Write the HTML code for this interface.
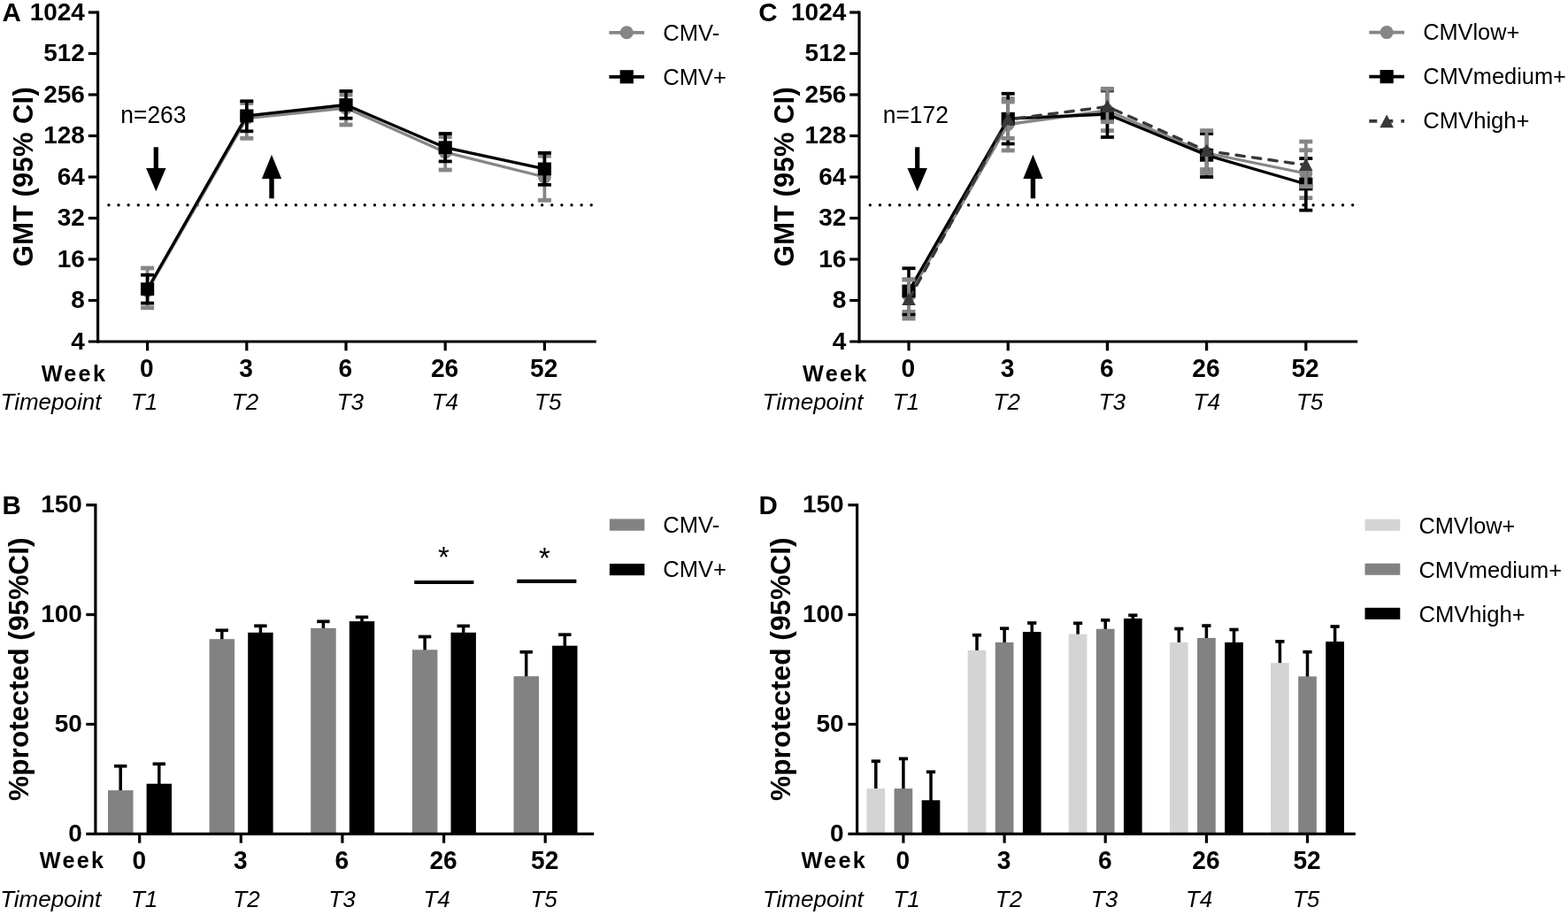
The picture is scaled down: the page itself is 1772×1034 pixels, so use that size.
<!DOCTYPE html>
<html><head><meta charset="utf-8"><title>Figure</title>
<style>html,body{margin:0;padding:0;background:#fff}svg{display:block}text{font-family:"Liberation Sans",sans-serif;fill:#000}</style>
</head><body>
<svg width="1772" height="1034" viewBox="0 0 1772 1034">
<rect width="1772" height="1034" fill="#fff"/>
<line x1="110.60" y1="12.50" x2="110.60" y2="387.60" stroke="#000" stroke-width="3.2" />
<line x1="99.80" y1="386.00" x2="673.80" y2="386.00" stroke="#000" stroke-width="3.2" />
<text transform="translate(95.90 394.90) scale(1 1.01)" font-size="28" font-weight="bold" text-anchor="end" >4</text>
<line x1="99.80" y1="339.50" x2="110.60" y2="339.50" stroke="#000" stroke-width="3.2" />
<text transform="translate(95.90 348.40) scale(1 1.01)" font-size="28" font-weight="bold" text-anchor="end" >8</text>
<line x1="99.80" y1="293.00" x2="110.60" y2="293.00" stroke="#000" stroke-width="3.2" />
<text transform="translate(95.90 301.90) scale(1 1.01)" font-size="28" font-weight="bold" text-anchor="end" >16</text>
<line x1="99.80" y1="246.50" x2="110.60" y2="246.50" stroke="#000" stroke-width="3.2" />
<text transform="translate(95.90 255.40) scale(1 1.01)" font-size="28" font-weight="bold" text-anchor="end" >32</text>
<line x1="99.80" y1="200.00" x2="110.60" y2="200.00" stroke="#000" stroke-width="3.2" />
<text transform="translate(95.90 208.90) scale(1 1.01)" font-size="28" font-weight="bold" text-anchor="end" >64</text>
<line x1="99.80" y1="153.50" x2="110.60" y2="153.50" stroke="#000" stroke-width="3.2" />
<text transform="translate(95.90 162.40) scale(1 1.01)" font-size="28" font-weight="bold" text-anchor="end" >128</text>
<line x1="99.80" y1="107.00" x2="110.60" y2="107.00" stroke="#000" stroke-width="3.2" />
<text transform="translate(95.90 115.90) scale(1 1.01)" font-size="28" font-weight="bold" text-anchor="end" >256</text>
<line x1="99.80" y1="60.50" x2="110.60" y2="60.50" stroke="#000" stroke-width="3.2" />
<text transform="translate(95.90 69.40) scale(1 1.01)" font-size="28" font-weight="bold" text-anchor="end" >512</text>
<line x1="99.80" y1="14.00" x2="110.60" y2="14.00" stroke="#000" stroke-width="3.2" />
<text transform="translate(95.90 22.90) scale(1 1.01)" font-size="28" font-weight="bold" text-anchor="end" >1024</text>
<line x1="166.60" y1="386.00" x2="166.60" y2="396.30" stroke="#000" stroke-width="3.2" />
<text transform="translate(165.90 425.80) scale(1 1.045)" font-size="28.1" font-weight="bold" text-anchor="middle" >0</text>
<line x1="278.80" y1="386.00" x2="278.80" y2="396.30" stroke="#000" stroke-width="3.2" />
<text transform="translate(278.10 425.80) scale(1 1.045)" font-size="28.1" font-weight="bold" text-anchor="middle" >3</text>
<line x1="391.00" y1="386.00" x2="391.00" y2="396.30" stroke="#000" stroke-width="3.2" />
<text transform="translate(390.30 425.80) scale(1 1.045)" font-size="28.1" font-weight="bold" text-anchor="middle" >6</text>
<line x1="503.20" y1="386.00" x2="503.20" y2="396.30" stroke="#000" stroke-width="3.2" />
<text transform="translate(502.50 425.80) scale(1 1.045)" font-size="28.1" font-weight="bold" text-anchor="middle" >26</text>
<line x1="615.40" y1="386.00" x2="615.40" y2="396.30" stroke="#000" stroke-width="3.2" />
<text transform="translate(614.70 425.80) scale(1 1.045)" font-size="28.1" font-weight="bold" text-anchor="middle" >52</text>
<text x="147.90" y="462.80" font-size="26" font-weight="normal" font-style="italic" text-anchor="start" >T1</text>
<text x="261.80" y="462.80" font-size="26" font-weight="normal" font-style="italic" text-anchor="start" >T2</text>
<text x="380.70" y="462.80" font-size="26" font-weight="normal" font-style="italic" text-anchor="start" >T3</text>
<text x="487.70" y="462.80" font-size="26" font-weight="normal" font-style="italic" text-anchor="start" >T4</text>
<text x="604.10" y="462.80" font-size="26" font-weight="normal" font-style="italic" text-anchor="start" >T5</text>
<text transform="translate(46.70 430.60) scale(1 1.04)" font-size="25.2" font-weight="bold" text-anchor="start" letter-spacing="2.3">Week</text>
<text x="0.50" y="462.80" font-size="26" font-weight="normal" font-style="italic" text-anchor="start" >Timepoint</text>
<text x="2.60" y="23.70" font-size="29.5" font-weight="bold" font-style="normal" text-anchor="start" >A</text>
<text transform="translate(37.00,199.6) rotate(-90)" font-size="31" font-weight="bold" text-anchor="middle" letter-spacing="0.3">GMT (95% CI)</text>
<text transform="translate(136.30 138.50) scale(1 1.035)" font-size="26.4" font-weight="normal" text-anchor="start" >n=263</text>
<line x1="122.90" y1="231.7" x2="669.00" y2="231.7" stroke="#000" stroke-width="3.4" stroke-linecap="round" stroke-dasharray="0 11.13"/>
<path d="M173.70 166.3H178.90V190H187.50L176.30 216.3L165.10 190H173.70Z" fill="#000"/>
<path d="M304.30 224.2H309.70V202H318.10L307.00 174.8L295.90 202H304.30Z" fill="#000"/>
<polyline points="166.60,328.50 278.80,133.50 391.00,122.00 503.20,172.00 615.40,200.00" fill="none" stroke="#868686" stroke-width="3.3" stroke-linejoin="round" />
<line x1="166.60" y1="303.00" x2="166.60" y2="347.80" stroke="#868686" stroke-width="3.8" />
<line x1="159.10" y1="303.00" x2="174.10" y2="303.00" stroke="#868686" stroke-width="4.8" />
<line x1="159.10" y1="347.80" x2="174.10" y2="347.80" stroke="#868686" stroke-width="4.8" />
<circle cx="166.60" cy="328.50" r="7.5" fill="#868686"/>
<line x1="278.80" y1="116.50" x2="278.80" y2="156.30" stroke="#868686" stroke-width="3.8" />
<line x1="271.30" y1="116.50" x2="286.30" y2="116.50" stroke="#868686" stroke-width="4.8" />
<line x1="271.30" y1="156.30" x2="286.30" y2="156.30" stroke="#868686" stroke-width="4.8" />
<circle cx="278.80" cy="133.50" r="7.5" fill="#868686"/>
<line x1="391.00" y1="107.00" x2="391.00" y2="141.00" stroke="#868686" stroke-width="3.8" />
<line x1="383.50" y1="107.00" x2="398.50" y2="107.00" stroke="#868686" stroke-width="4.8" />
<line x1="383.50" y1="141.00" x2="398.50" y2="141.00" stroke="#868686" stroke-width="4.8" />
<circle cx="391.00" cy="122.00" r="7.5" fill="#868686"/>
<line x1="503.20" y1="154.50" x2="503.20" y2="192.00" stroke="#868686" stroke-width="3.8" />
<line x1="495.70" y1="154.50" x2="510.70" y2="154.50" stroke="#868686" stroke-width="4.8" />
<line x1="495.70" y1="192.00" x2="510.70" y2="192.00" stroke="#868686" stroke-width="4.8" />
<circle cx="503.20" cy="172.00" r="7.5" fill="#868686"/>
<line x1="615.40" y1="176.20" x2="615.40" y2="226.30" stroke="#868686" stroke-width="3.8" />
<line x1="607.90" y1="176.20" x2="622.90" y2="176.20" stroke="#868686" stroke-width="4.8" />
<line x1="607.90" y1="226.30" x2="622.90" y2="226.30" stroke="#868686" stroke-width="4.8" />
<circle cx="615.40" cy="200.00" r="7.5" fill="#868686"/>
<polyline points="166.60,326.70 278.80,130.90 391.00,118.50 503.20,166.70 615.40,190.90" fill="none" stroke="#000" stroke-width="3.3" stroke-linejoin="round" />
<line x1="166.60" y1="310.70" x2="166.60" y2="342.60" stroke="#000" stroke-width="3.6" />
<line x1="159.10" y1="310.70" x2="174.10" y2="310.70" stroke="#000" stroke-width="3.8" />
<line x1="159.10" y1="342.60" x2="174.10" y2="342.60" stroke="#000" stroke-width="3.8" />
<rect x="159.00" y="319.30" width="15.20" height="14.80" fill="#000"/>
<line x1="278.80" y1="114.30" x2="278.80" y2="148.30" stroke="#000" stroke-width="3.6" />
<line x1="271.30" y1="114.30" x2="286.30" y2="114.30" stroke="#000" stroke-width="3.8" />
<line x1="271.30" y1="148.30" x2="286.30" y2="148.30" stroke="#000" stroke-width="3.8" />
<rect x="271.20" y="123.50" width="15.20" height="14.80" fill="#000"/>
<line x1="391.00" y1="103.00" x2="391.00" y2="133.70" stroke="#000" stroke-width="3.6" />
<line x1="383.50" y1="103.00" x2="398.50" y2="103.00" stroke="#000" stroke-width="3.8" />
<line x1="383.50" y1="133.70" x2="398.50" y2="133.70" stroke="#000" stroke-width="3.8" />
<rect x="383.40" y="111.10" width="15.20" height="14.80" fill="#000"/>
<line x1="503.20" y1="151.00" x2="503.20" y2="182.40" stroke="#000" stroke-width="3.6" />
<line x1="495.70" y1="151.00" x2="510.70" y2="151.00" stroke="#000" stroke-width="3.8" />
<line x1="495.70" y1="182.40" x2="510.70" y2="182.40" stroke="#000" stroke-width="3.8" />
<rect x="495.60" y="159.30" width="15.20" height="14.80" fill="#000"/>
<line x1="615.40" y1="172.80" x2="615.40" y2="208.80" stroke="#000" stroke-width="3.6" />
<line x1="607.90" y1="172.80" x2="622.90" y2="172.80" stroke="#000" stroke-width="3.8" />
<line x1="607.90" y1="208.80" x2="622.90" y2="208.80" stroke="#000" stroke-width="3.8" />
<rect x="607.80" y="183.50" width="15.20" height="14.80" fill="#000"/>
<line x1="688.40" y1="36.80" x2="728.10" y2="36.80" stroke="#868686" stroke-width="3.7" />
<circle cx="708.25" cy="36.8" r="7.5" fill="#868686"/>
<text transform="translate(749.20 46.00) scale(1 1.04)" font-size="25.6">CMV-</text>
<line x1="688.40" y1="86.80" x2="728.10" y2="86.80" stroke="#000" stroke-width="3.7" />
<rect x="700.65" y="79.20" width="15.20" height="15.20" fill="#000"/>
<text transform="translate(749.20 95.80) scale(1 1.04)" font-size="25.6">CMV+</text>
<line x1="971.00" y1="12.50" x2="971.00" y2="387.60" stroke="#000" stroke-width="3.2" />
<line x1="960.20" y1="386.00" x2="1534.20" y2="386.00" stroke="#000" stroke-width="3.2" />
<text transform="translate(956.30 394.90) scale(1 1.01)" font-size="28" font-weight="bold" text-anchor="end" >4</text>
<line x1="960.20" y1="339.50" x2="971.00" y2="339.50" stroke="#000" stroke-width="3.2" />
<text transform="translate(956.30 348.40) scale(1 1.01)" font-size="28" font-weight="bold" text-anchor="end" >8</text>
<line x1="960.20" y1="293.00" x2="971.00" y2="293.00" stroke="#000" stroke-width="3.2" />
<text transform="translate(956.30 301.90) scale(1 1.01)" font-size="28" font-weight="bold" text-anchor="end" >16</text>
<line x1="960.20" y1="246.50" x2="971.00" y2="246.50" stroke="#000" stroke-width="3.2" />
<text transform="translate(956.30 255.40) scale(1 1.01)" font-size="28" font-weight="bold" text-anchor="end" >32</text>
<line x1="960.20" y1="200.00" x2="971.00" y2="200.00" stroke="#000" stroke-width="3.2" />
<text transform="translate(956.30 208.90) scale(1 1.01)" font-size="28" font-weight="bold" text-anchor="end" >64</text>
<line x1="960.20" y1="153.50" x2="971.00" y2="153.50" stroke="#000" stroke-width="3.2" />
<text transform="translate(956.30 162.40) scale(1 1.01)" font-size="28" font-weight="bold" text-anchor="end" >128</text>
<line x1="960.20" y1="107.00" x2="971.00" y2="107.00" stroke="#000" stroke-width="3.2" />
<text transform="translate(956.30 115.90) scale(1 1.01)" font-size="28" font-weight="bold" text-anchor="end" >256</text>
<line x1="960.20" y1="60.50" x2="971.00" y2="60.50" stroke="#000" stroke-width="3.2" />
<text transform="translate(956.30 69.40) scale(1 1.01)" font-size="28" font-weight="bold" text-anchor="end" >512</text>
<line x1="960.20" y1="14.00" x2="971.00" y2="14.00" stroke="#000" stroke-width="3.2" />
<text transform="translate(956.30 22.90) scale(1 1.01)" font-size="28" font-weight="bold" text-anchor="end" >1024</text>
<line x1="1027.00" y1="386.00" x2="1027.00" y2="396.30" stroke="#000" stroke-width="3.2" />
<text transform="translate(1026.30 425.80) scale(1 1.045)" font-size="28.1" font-weight="bold" text-anchor="middle" >0</text>
<line x1="1139.20" y1="386.00" x2="1139.20" y2="396.30" stroke="#000" stroke-width="3.2" />
<text transform="translate(1138.50 425.80) scale(1 1.045)" font-size="28.1" font-weight="bold" text-anchor="middle" >3</text>
<line x1="1251.40" y1="386.00" x2="1251.40" y2="396.30" stroke="#000" stroke-width="3.2" />
<text transform="translate(1250.70 425.80) scale(1 1.045)" font-size="28.1" font-weight="bold" text-anchor="middle" >6</text>
<line x1="1363.60" y1="386.00" x2="1363.60" y2="396.30" stroke="#000" stroke-width="3.2" />
<text transform="translate(1362.90 425.80) scale(1 1.045)" font-size="28.1" font-weight="bold" text-anchor="middle" >26</text>
<line x1="1475.80" y1="386.00" x2="1475.80" y2="396.30" stroke="#000" stroke-width="3.2" />
<text transform="translate(1475.10 425.80) scale(1 1.045)" font-size="28.1" font-weight="bold" text-anchor="middle" >52</text>
<text x="1008.70" y="462.80" font-size="26" font-weight="normal" font-style="italic" text-anchor="start" >T1</text>
<text x="1122.60" y="462.80" font-size="26" font-weight="normal" font-style="italic" text-anchor="start" >T2</text>
<text x="1241.50" y="462.80" font-size="26" font-weight="normal" font-style="italic" text-anchor="start" >T3</text>
<text x="1348.50" y="462.80" font-size="26" font-weight="normal" font-style="italic" text-anchor="start" >T4</text>
<text x="1464.90" y="462.80" font-size="26" font-weight="normal" font-style="italic" text-anchor="start" >T5</text>
<text transform="translate(907.10 430.60) scale(1 1.04)" font-size="25.2" font-weight="bold" text-anchor="start" letter-spacing="2.3">Week</text>
<text x="861.60" y="462.80" font-size="26" font-weight="normal" font-style="italic" text-anchor="start" >Timepoint</text>
<text x="857.20" y="23.70" font-size="29.5" font-weight="bold" font-style="normal" text-anchor="start" >C</text>
<text transform="translate(897.40,199.6) rotate(-90)" font-size="31" font-weight="bold" text-anchor="middle" letter-spacing="0.3">GMT (95% CI)</text>
<text transform="translate(997.70 138.50) scale(1 1.035)" font-size="26.4" font-weight="normal" text-anchor="start" >n=172</text>
<line x1="983.30" y1="231.7" x2="1529.40" y2="231.7" stroke="#000" stroke-width="3.4" stroke-linecap="round" stroke-dasharray="0 11.13"/>
<path d="M1034.10 166.3H1039.30V190H1047.90L1036.70 216.3L1025.50 190H1034.10Z" fill="#000"/>
<path d="M1164.70 224.2H1170.10V202H1178.50L1167.40 174.8L1156.30 202H1164.70Z" fill="#000"/>
<polyline points="1027.00,334.00 1139.20,140.50 1251.40,125.00 1363.60,173.00 1475.80,196.00" fill="none" stroke="#868686" stroke-width="3.3" stroke-linejoin="round" />
<line x1="1027.00" y1="315.80" x2="1027.00" y2="352.40" stroke="#868686" stroke-width="3.8" />
<line x1="1019.50" y1="315.80" x2="1034.50" y2="315.80" stroke="#868686" stroke-width="4.8" />
<line x1="1019.50" y1="352.40" x2="1034.50" y2="352.40" stroke="#868686" stroke-width="4.8" />
<circle cx="1027.00" cy="334.00" r="7.5" fill="#868686"/>
<line x1="1139.20" y1="111.50" x2="1139.20" y2="170.00" stroke="#868686" stroke-width="3.8" />
<line x1="1131.70" y1="111.50" x2="1146.70" y2="111.50" stroke="#868686" stroke-width="4.8" />
<line x1="1131.70" y1="170.00" x2="1146.70" y2="170.00" stroke="#868686" stroke-width="4.8" />
<circle cx="1139.20" cy="140.50" r="7.5" fill="#868686"/>
<line x1="1251.40" y1="102.40" x2="1251.40" y2="147.60" stroke="#868686" stroke-width="3.8" />
<line x1="1243.90" y1="102.40" x2="1258.90" y2="102.40" stroke="#868686" stroke-width="4.8" />
<line x1="1243.90" y1="147.60" x2="1258.90" y2="147.60" stroke="#868686" stroke-width="4.8" />
<circle cx="1251.40" cy="125.00" r="7.5" fill="#868686"/>
<line x1="1363.60" y1="149.40" x2="1363.60" y2="191.50" stroke="#868686" stroke-width="3.8" />
<line x1="1356.10" y1="149.40" x2="1371.10" y2="149.40" stroke="#868686" stroke-width="4.8" />
<line x1="1356.10" y1="191.50" x2="1371.10" y2="191.50" stroke="#868686" stroke-width="4.8" />
<circle cx="1363.60" cy="173.00" r="7.5" fill="#868686"/>
<line x1="1475.80" y1="169.70" x2="1475.80" y2="223.70" stroke="#868686" stroke-width="3.8" />
<line x1="1468.30" y1="169.70" x2="1483.30" y2="169.70" stroke="#868686" stroke-width="4.8" />
<line x1="1468.30" y1="223.70" x2="1483.30" y2="223.70" stroke="#868686" stroke-width="4.8" />
<circle cx="1475.80" cy="196.00" r="7.5" fill="#868686"/>
<polyline points="1027.00,329.00 1139.20,134.20 1251.40,129.00 1363.60,175.30 1475.80,208.00" fill="none" stroke="#000" stroke-width="3.3" stroke-linejoin="round" />
<line x1="1027.00" y1="303.20" x2="1027.00" y2="355.70" stroke="#000" stroke-width="3.6" />
<line x1="1019.50" y1="303.20" x2="1034.50" y2="303.20" stroke="#000" stroke-width="3.8" />
<line x1="1019.50" y1="355.70" x2="1034.50" y2="355.70" stroke="#000" stroke-width="3.8" />
<rect x="1019.40" y="321.60" width="15.20" height="14.80" fill="#000"/>
<line x1="1139.20" y1="105.80" x2="1139.20" y2="162.50" stroke="#000" stroke-width="3.6" />
<line x1="1131.70" y1="105.80" x2="1146.70" y2="105.80" stroke="#000" stroke-width="3.8" />
<line x1="1131.70" y1="162.50" x2="1146.70" y2="162.50" stroke="#000" stroke-width="3.8" />
<rect x="1131.60" y="126.80" width="15.20" height="14.80" fill="#000"/>
<line x1="1251.40" y1="101.60" x2="1251.40" y2="155.00" stroke="#000" stroke-width="3.6" />
<line x1="1243.90" y1="101.60" x2="1258.90" y2="101.60" stroke="#000" stroke-width="3.8" />
<line x1="1243.90" y1="155.00" x2="1258.90" y2="155.00" stroke="#000" stroke-width="3.8" />
<rect x="1243.80" y="121.60" width="15.20" height="14.80" fill="#000"/>
<line x1="1363.60" y1="151.00" x2="1363.60" y2="200.00" stroke="#000" stroke-width="3.6" />
<line x1="1356.10" y1="151.00" x2="1371.10" y2="151.00" stroke="#000" stroke-width="3.8" />
<line x1="1356.10" y1="200.00" x2="1371.10" y2="200.00" stroke="#000" stroke-width="3.8" />
<rect x="1356.00" y="167.90" width="15.20" height="14.80" fill="#000"/>
<line x1="1475.80" y1="179.10" x2="1475.80" y2="237.60" stroke="#000" stroke-width="3.6" />
<line x1="1468.30" y1="179.10" x2="1483.30" y2="179.10" stroke="#000" stroke-width="3.8" />
<line x1="1468.30" y1="237.60" x2="1483.30" y2="237.60" stroke="#000" stroke-width="3.8" />
<rect x="1468.20" y="200.60" width="15.20" height="14.80" fill="#000"/>
<polyline points="1027.00,338.50 1139.20,135.00 1251.40,120.50 1363.60,170.50 1475.80,186.50" fill="none" stroke="#383838" stroke-width="3.4" stroke-linejoin="round" stroke-dasharray="9.3 9.3" stroke-linecap="round"/>
<line x1="1027.00" y1="316.00" x2="1027.00" y2="360.00" stroke="#868686" stroke-width="3.8" />
<line x1="1019.50" y1="316.00" x2="1034.50" y2="316.00" stroke="#868686" stroke-width="4.8" />
<line x1="1019.50" y1="360.00" x2="1034.50" y2="360.00" stroke="#868686" stroke-width="4.8" />
<path d="M1027.00 330.50L1034.80 344.90H1019.20Z" fill="#383838"/>
<line x1="1139.20" y1="115.00" x2="1139.20" y2="156.30" stroke="#868686" stroke-width="3.8" />
<line x1="1131.70" y1="115.00" x2="1146.70" y2="115.00" stroke="#868686" stroke-width="4.8" />
<line x1="1131.70" y1="156.30" x2="1146.70" y2="156.30" stroke="#868686" stroke-width="4.8" />
<path d="M1139.20 127.00L1147.00 141.40H1131.40Z" fill="#383838"/>
<line x1="1251.40" y1="100.40" x2="1251.40" y2="137.70" stroke="#868686" stroke-width="3.8" />
<line x1="1243.90" y1="100.40" x2="1258.90" y2="100.40" stroke="#868686" stroke-width="4.8" />
<line x1="1243.90" y1="137.70" x2="1258.90" y2="137.70" stroke="#868686" stroke-width="4.8" />
<path d="M1251.40 112.50L1259.20 126.90H1243.60Z" fill="#383838"/>
<line x1="1363.60" y1="147.60" x2="1363.60" y2="195.50" stroke="#868686" stroke-width="3.8" />
<line x1="1356.10" y1="147.60" x2="1371.10" y2="147.60" stroke="#868686" stroke-width="4.8" />
<line x1="1356.10" y1="195.50" x2="1371.10" y2="195.50" stroke="#868686" stroke-width="4.8" />
<path d="M1363.60 162.50L1371.40 176.90H1355.80Z" fill="#383838"/>
<line x1="1475.80" y1="160.00" x2="1475.80" y2="210.60" stroke="#868686" stroke-width="3.8" />
<line x1="1468.30" y1="160.00" x2="1483.30" y2="160.00" stroke="#868686" stroke-width="4.8" />
<line x1="1468.30" y1="210.60" x2="1483.30" y2="210.60" stroke="#868686" stroke-width="4.8" />
<path d="M1475.80 178.50L1483.60 192.90H1468.00Z" fill="#383838"/>
<line x1="1547.30" y1="36.60" x2="1587.00" y2="36.60" stroke="#868686" stroke-width="3.7" />
<circle cx="1567.15" cy="36.6" r="7.5" fill="#868686"/>
<text transform="translate(1608.30 45.10) scale(1 1.04)" font-size="25.3">CMVlow+</text>
<line x1="1547.30" y1="86.60" x2="1587.00" y2="86.60" stroke="#000" stroke-width="3.7" />
<rect x="1559.55" y="79.00" width="15.20" height="15.20" fill="#000"/>
<text transform="translate(1608.30 95.40) scale(1 1.04)" font-size="25.4">CMVmedium+</text>
<line x1="1547.30" y1="136.8" x2="1587.00" y2="136.8" stroke="#383838" stroke-width="3.8" stroke-dasharray="9 9"/>
<path d="M1567.15 129.40L1574.95 144.20H1559.35Z" fill="#383838"/>
<text transform="translate(1608.30 145.20) scale(1 1.04)" font-size="25.6">CMVhigh+</text>
<line x1="136.20" y1="894.10" x2="136.20" y2="865.70" stroke="#000" stroke-width="3.5" />
<line x1="129.00" y1="865.70" x2="143.40" y2="865.70" stroke="#000" stroke-width="3.7" />
<line x1="179.80" y1="886.70" x2="179.80" y2="863.30" stroke="#000" stroke-width="3.5" />
<line x1="172.60" y1="863.30" x2="187.00" y2="863.30" stroke="#000" stroke-width="3.7" />
<rect x="122.00" y="893.10" width="28.50" height="49.20" fill="#828282"/>
<rect x="165.60" y="885.70" width="28.40" height="56.60" fill="#000"/>
<line x1="250.80" y1="723.20" x2="250.80" y2="712.30" stroke="#000" stroke-width="3.5" />
<line x1="243.60" y1="712.30" x2="258.00" y2="712.30" stroke="#000" stroke-width="3.7" />
<line x1="294.40" y1="715.80" x2="294.40" y2="707.30" stroke="#000" stroke-width="3.5" />
<line x1="287.20" y1="707.30" x2="301.60" y2="707.30" stroke="#000" stroke-width="3.7" />
<rect x="236.60" y="722.20" width="28.50" height="220.10" fill="#828282"/>
<rect x="280.20" y="714.80" width="28.40" height="227.50" fill="#000"/>
<line x1="365.40" y1="710.80" x2="365.40" y2="702.30" stroke="#000" stroke-width="3.5" />
<line x1="358.20" y1="702.30" x2="372.60" y2="702.30" stroke="#000" stroke-width="3.7" />
<line x1="409.00" y1="703.10" x2="409.00" y2="697.40" stroke="#000" stroke-width="3.5" />
<line x1="401.80" y1="697.40" x2="416.20" y2="697.40" stroke="#000" stroke-width="3.7" />
<rect x="351.20" y="709.80" width="28.50" height="232.50" fill="#828282"/>
<rect x="394.80" y="702.10" width="28.40" height="240.20" fill="#000"/>
<line x1="480.10" y1="735.30" x2="480.10" y2="719.50" stroke="#000" stroke-width="3.5" />
<line x1="472.90" y1="719.50" x2="487.30" y2="719.50" stroke="#000" stroke-width="3.7" />
<line x1="523.70" y1="715.80" x2="523.70" y2="707.40" stroke="#000" stroke-width="3.5" />
<line x1="516.50" y1="707.40" x2="530.90" y2="707.40" stroke="#000" stroke-width="3.7" />
<rect x="465.90" y="734.30" width="28.50" height="208.00" fill="#828282"/>
<rect x="509.50" y="714.80" width="28.40" height="227.50" fill="#000"/>
<line x1="594.70" y1="765.20" x2="594.70" y2="736.80" stroke="#000" stroke-width="3.5" />
<line x1="587.50" y1="736.80" x2="601.90" y2="736.80" stroke="#000" stroke-width="3.7" />
<line x1="638.30" y1="730.70" x2="638.30" y2="717.20" stroke="#000" stroke-width="3.5" />
<line x1="631.10" y1="717.20" x2="645.50" y2="717.20" stroke="#000" stroke-width="3.7" />
<rect x="580.50" y="764.20" width="28.50" height="178.10" fill="#828282"/>
<rect x="624.10" y="729.70" width="28.40" height="212.60" fill="#000"/>
<line x1="107.90" y1="569.10" x2="107.90" y2="943.90" stroke="#000" stroke-width="3.2" />
<line x1="97.30" y1="942.30" x2="671.20" y2="942.30" stroke="#000" stroke-width="3.2" />
<text transform="translate(92.90 951.10) scale(1 1.015)" font-size="28" font-weight="bold" text-anchor="end" >0</text>
<line x1="97.30" y1="818.43" x2="107.90" y2="818.43" stroke="#000" stroke-width="3.2" />
<text transform="translate(92.90 827.23) scale(1 1.015)" font-size="28" font-weight="bold" text-anchor="end" >50</text>
<line x1="97.30" y1="694.56" x2="107.90" y2="694.56" stroke="#000" stroke-width="3.2" />
<text transform="translate(92.90 703.36) scale(1 1.015)" font-size="28" font-weight="bold" text-anchor="end" >100</text>
<line x1="97.30" y1="570.69" x2="107.90" y2="570.69" stroke="#000" stroke-width="3.2" />
<text transform="translate(92.90 579.49) scale(1 1.015)" font-size="28" font-weight="bold" text-anchor="end" >150</text>
<line x1="157.70" y1="942.30" x2="157.70" y2="952.70" stroke="#000" stroke-width="3.2" />
<text transform="translate(157.20 982.00) scale(1 1.045)" font-size="28.1" font-weight="bold" text-anchor="middle" >0</text>
<line x1="272.30" y1="942.30" x2="272.30" y2="952.70" stroke="#000" stroke-width="3.2" />
<text transform="translate(271.80 982.00) scale(1 1.045)" font-size="28.1" font-weight="bold" text-anchor="middle" >3</text>
<line x1="386.90" y1="942.30" x2="386.90" y2="952.70" stroke="#000" stroke-width="3.2" />
<text transform="translate(386.40 982.00) scale(1 1.045)" font-size="28.1" font-weight="bold" text-anchor="middle" >6</text>
<line x1="501.60" y1="942.30" x2="501.60" y2="952.70" stroke="#000" stroke-width="3.2" />
<text transform="translate(501.10 982.00) scale(1 1.045)" font-size="28.1" font-weight="bold" text-anchor="middle" >26</text>
<line x1="616.20" y1="942.30" x2="616.20" y2="952.70" stroke="#000" stroke-width="3.2" />
<text transform="translate(615.70 982.00) scale(1 1.045)" font-size="28.1" font-weight="bold" text-anchor="middle" >52</text>
<text x="147.90" y="1024.50" font-size="26" font-weight="normal" font-style="italic" text-anchor="start" >T1</text>
<text x="263.30" y="1024.50" font-size="26" font-weight="normal" font-style="italic" text-anchor="start" >T2</text>
<text x="371.30" y="1024.50" font-size="26" font-weight="normal" font-style="italic" text-anchor="start" >T3</text>
<text x="478.40" y="1024.50" font-size="26" font-weight="normal" font-style="italic" text-anchor="start" >T4</text>
<text x="599.40" y="1024.50" font-size="26" font-weight="normal" font-style="italic" text-anchor="start" >T5</text>
<text transform="translate(44.80 981.30) scale(1 1.04)" font-size="25.2" font-weight="bold" text-anchor="start" letter-spacing="2.3">Week</text>
<text x="0.20" y="1024.50" font-size="26" font-weight="normal" font-style="italic" text-anchor="start" >Timepoint</text>
<text x="2.60" y="581.30" font-size="29.5" font-weight="bold" font-style="normal" text-anchor="start" >B</text>
<text transform="translate(31.80,756.2) rotate(-90)" font-size="31.7" font-weight="bold" text-anchor="middle">%protected (95%CI)</text>
<line x1="468.20" y1="658.00" x2="535.40" y2="658.00" stroke="#000" stroke-width="4.2" />
<line x1="584.30" y1="656.80" x2="651.40" y2="656.80" stroke="#000" stroke-width="4.2" />
<text x="501.30" y="641.40" font-size="33" font-weight="normal" font-style="normal" text-anchor="middle" >*</text>
<text x="615.30" y="641.90" font-size="33" font-weight="normal" font-style="normal" text-anchor="middle" >*</text>
<rect x="688.90" y="586.40" width="39.50" height="13.30" fill="#828282"/>
<text transform="translate(749.20 602.20) scale(1 1.04)" font-size="25.6">CMV-</text>
<rect x="688.90" y="637.00" width="39.50" height="13.20" fill="#000"/>
<text transform="translate(749.20 652.20) scale(1 1.04)" font-size="25.6">CMV+</text>
<line x1="989.80" y1="892.10" x2="989.80" y2="860.20" stroke="#000" stroke-width="3.5" />
<line x1="984.70" y1="860.20" x2="994.90" y2="860.20" stroke="#000" stroke-width="3.7" />
<rect x="979.45" y="891.10" width="20.70" height="51.20" fill="#d4d4d4"/>
<line x1="1020.90" y1="892.10" x2="1020.90" y2="857.40" stroke="#000" stroke-width="3.5" />
<line x1="1015.80" y1="857.40" x2="1026.00" y2="857.40" stroke="#000" stroke-width="3.7" />
<rect x="1010.55" y="891.10" width="20.70" height="51.20" fill="#828282"/>
<line x1="1052.00" y1="905.30" x2="1052.00" y2="872.30" stroke="#000" stroke-width="3.5" />
<line x1="1046.90" y1="872.30" x2="1057.10" y2="872.30" stroke="#000" stroke-width="3.7" />
<rect x="1041.65" y="904.30" width="20.70" height="38.00" fill="#000"/>
<line x1="1104.00" y1="735.90" x2="1104.00" y2="717.70" stroke="#000" stroke-width="3.5" />
<line x1="1098.90" y1="717.70" x2="1109.10" y2="717.70" stroke="#000" stroke-width="3.7" />
<rect x="1093.65" y="734.90" width="20.70" height="207.40" fill="#d4d4d4"/>
<line x1="1135.10" y1="726.90" x2="1135.10" y2="710.20" stroke="#000" stroke-width="3.5" />
<line x1="1130.00" y1="710.20" x2="1140.20" y2="710.20" stroke="#000" stroke-width="3.7" />
<rect x="1124.75" y="725.90" width="20.70" height="216.40" fill="#828282"/>
<line x1="1166.20" y1="715.10" x2="1166.20" y2="704.00" stroke="#000" stroke-width="3.5" />
<line x1="1161.10" y1="704.00" x2="1171.30" y2="704.00" stroke="#000" stroke-width="3.7" />
<rect x="1155.85" y="714.10" width="20.70" height="228.20" fill="#000"/>
<line x1="1218.10" y1="717.60" x2="1218.10" y2="704.30" stroke="#000" stroke-width="3.5" />
<line x1="1213.00" y1="704.30" x2="1223.20" y2="704.30" stroke="#000" stroke-width="3.7" />
<rect x="1207.75" y="716.60" width="20.70" height="225.70" fill="#d4d4d4"/>
<line x1="1249.20" y1="711.70" x2="1249.20" y2="700.80" stroke="#000" stroke-width="3.5" />
<line x1="1244.10" y1="700.80" x2="1254.30" y2="700.80" stroke="#000" stroke-width="3.7" />
<rect x="1238.85" y="710.70" width="20.70" height="231.60" fill="#828282"/>
<line x1="1280.30" y1="699.90" x2="1280.30" y2="695.30" stroke="#000" stroke-width="3.5" />
<line x1="1275.20" y1="695.30" x2="1285.40" y2="695.30" stroke="#000" stroke-width="3.7" />
<rect x="1269.95" y="698.90" width="20.70" height="243.40" fill="#000"/>
<line x1="1332.30" y1="726.90" x2="1332.30" y2="710.50" stroke="#000" stroke-width="3.5" />
<line x1="1327.20" y1="710.50" x2="1337.40" y2="710.50" stroke="#000" stroke-width="3.7" />
<rect x="1321.95" y="725.90" width="20.70" height="216.40" fill="#d4d4d4"/>
<line x1="1363.40" y1="721.90" x2="1363.40" y2="707.10" stroke="#000" stroke-width="3.5" />
<line x1="1358.30" y1="707.10" x2="1368.50" y2="707.10" stroke="#000" stroke-width="3.7" />
<rect x="1353.05" y="720.90" width="20.70" height="221.40" fill="#828282"/>
<line x1="1394.50" y1="726.90" x2="1394.50" y2="711.50" stroke="#000" stroke-width="3.5" />
<line x1="1389.40" y1="711.50" x2="1399.60" y2="711.50" stroke="#000" stroke-width="3.7" />
<rect x="1384.15" y="725.90" width="20.70" height="216.40" fill="#000"/>
<line x1="1446.40" y1="750.10" x2="1446.40" y2="724.90" stroke="#000" stroke-width="3.5" />
<line x1="1441.30" y1="724.90" x2="1451.50" y2="724.90" stroke="#000" stroke-width="3.7" />
<rect x="1436.05" y="749.10" width="20.70" height="193.20" fill="#d4d4d4"/>
<line x1="1477.50" y1="765.40" x2="1477.50" y2="736.70" stroke="#000" stroke-width="3.5" />
<line x1="1472.40" y1="736.70" x2="1482.60" y2="736.70" stroke="#000" stroke-width="3.7" />
<rect x="1467.15" y="764.40" width="20.70" height="177.90" fill="#828282"/>
<line x1="1508.60" y1="726.00" x2="1508.60" y2="708.00" stroke="#000" stroke-width="3.5" />
<line x1="1503.50" y1="708.00" x2="1513.70" y2="708.00" stroke="#000" stroke-width="3.7" />
<rect x="1498.25" y="725.00" width="20.70" height="217.30" fill="#000"/>
<line x1="968.60" y1="569.10" x2="968.60" y2="943.90" stroke="#000" stroke-width="3.2" />
<line x1="958.40" y1="942.30" x2="1531.80" y2="942.30" stroke="#000" stroke-width="3.2" />
<text transform="translate(953.60 951.10) scale(1 1.015)" font-size="28" font-weight="bold" text-anchor="end" >0</text>
<line x1="958.40" y1="818.43" x2="968.60" y2="818.43" stroke="#000" stroke-width="3.2" />
<text transform="translate(953.60 827.23) scale(1 1.015)" font-size="28" font-weight="bold" text-anchor="end" >50</text>
<line x1="958.40" y1="694.56" x2="968.60" y2="694.56" stroke="#000" stroke-width="3.2" />
<text transform="translate(953.60 703.36) scale(1 1.015)" font-size="28" font-weight="bold" text-anchor="end" >100</text>
<line x1="958.40" y1="570.69" x2="968.60" y2="570.69" stroke="#000" stroke-width="3.2" />
<text transform="translate(953.60 579.49) scale(1 1.015)" font-size="28" font-weight="bold" text-anchor="end" >150</text>
<line x1="1020.90" y1="942.30" x2="1020.90" y2="952.70" stroke="#000" stroke-width="3.2" />
<text transform="translate(1020.40 982.00) scale(1 1.045)" font-size="28.1" font-weight="bold" text-anchor="middle" >0</text>
<line x1="1135.10" y1="942.30" x2="1135.10" y2="952.70" stroke="#000" stroke-width="3.2" />
<text transform="translate(1134.60 982.00) scale(1 1.045)" font-size="28.1" font-weight="bold" text-anchor="middle" >3</text>
<line x1="1249.20" y1="942.30" x2="1249.20" y2="952.70" stroke="#000" stroke-width="3.2" />
<text transform="translate(1248.70 982.00) scale(1 1.045)" font-size="28.1" font-weight="bold" text-anchor="middle" >6</text>
<line x1="1363.40" y1="942.30" x2="1363.40" y2="952.70" stroke="#000" stroke-width="3.2" />
<text transform="translate(1362.90 982.00) scale(1 1.045)" font-size="28.1" font-weight="bold" text-anchor="middle" >26</text>
<line x1="1477.50" y1="942.30" x2="1477.50" y2="952.70" stroke="#000" stroke-width="3.2" />
<text transform="translate(1477.00 982.00) scale(1 1.045)" font-size="28.1" font-weight="bold" text-anchor="middle" >52</text>
<text x="1009.40" y="1024.50" font-size="26" font-weight="normal" font-style="italic" text-anchor="start" >T1</text>
<text x="1124.80" y="1024.50" font-size="26" font-weight="normal" font-style="italic" text-anchor="start" >T2</text>
<text x="1232.80" y="1024.50" font-size="26" font-weight="normal" font-style="italic" text-anchor="start" >T3</text>
<text x="1339.90" y="1024.50" font-size="26" font-weight="normal" font-style="italic" text-anchor="start" >T4</text>
<text x="1460.90" y="1024.50" font-size="26" font-weight="normal" font-style="italic" text-anchor="start" >T5</text>
<text transform="translate(905.50 981.30) scale(1 1.04)" font-size="25.2" font-weight="bold" text-anchor="start" letter-spacing="2.3">Week</text>
<text x="861.90" y="1024.50" font-size="26" font-weight="normal" font-style="italic" text-anchor="start" >Timepoint</text>
<text x="857.60" y="581.30" font-size="29.5" font-weight="bold" font-style="normal" text-anchor="start" >D</text>
<text transform="translate(892.50,756.2) rotate(-90)" font-size="31.7" font-weight="bold" text-anchor="middle">%protected (95%CI)</text>
<rect x="1542.50" y="586.70" width="39.80" height="13.10" fill="#d4d4d4"/>
<text transform="translate(1603.40 602.70) scale(1 1.04)" font-size="25.3">CMVlow+</text>
<rect x="1542.50" y="636.70" width="39.80" height="13.10" fill="#828282"/>
<text transform="translate(1603.40 652.70) scale(1 1.04)" font-size="25.4">CMVmedium+</text>
<rect x="1542.50" y="686.80" width="39.80" height="13.10" fill="#000"/>
<text transform="translate(1603.40 702.70) scale(1 1.04)" font-size="25.6">CMVhigh+</text>
</svg>
</body></html>
